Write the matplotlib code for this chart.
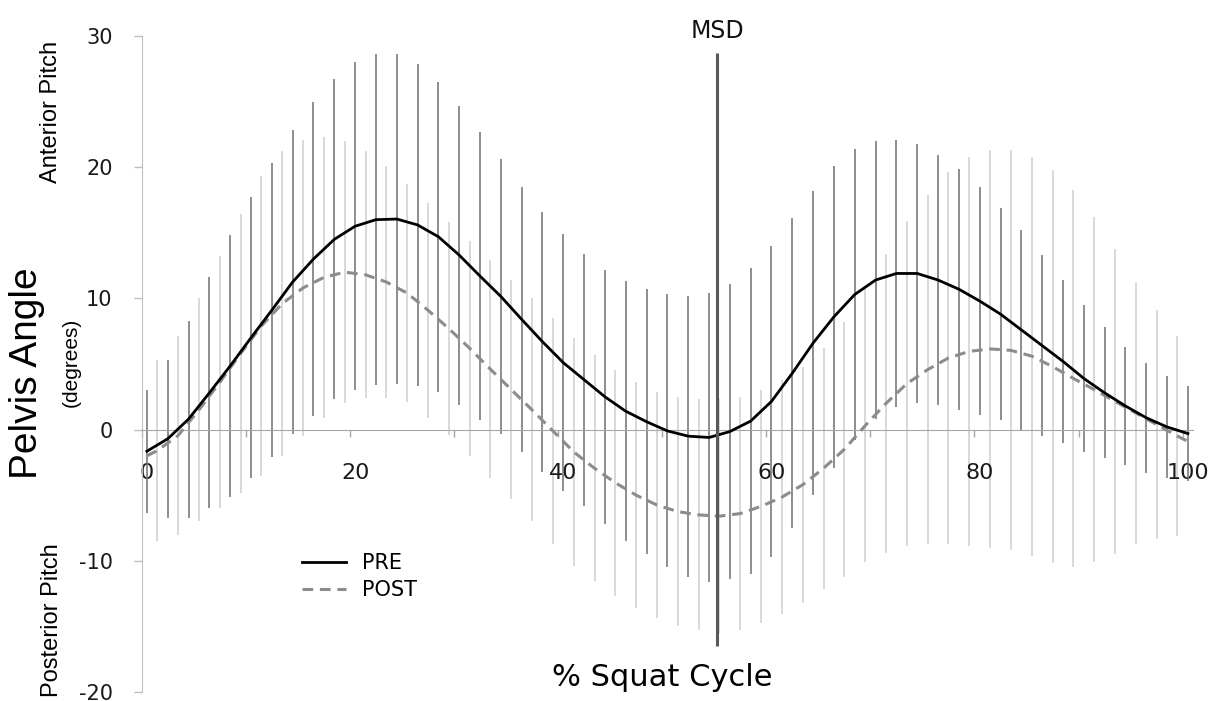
import numpy as np
import matplotlib.pyplot as plt
from matplotlib.lines import Line2D
from matplotlib import font_manager

plt.rcParams["axes.unicode_minus"] = False

# PRE: mean and SD every 2 % of the squat cycle
pre_x = list(range(0, 101, 2))
pre_mean = [-1.65, -0.7, 0.8, 2.8, 4.85, 7.0, 9.1, 11.25, 13.0, 14.5,
            15.5, 16.0, 16.05, 15.6, 14.7, 13.3, 11.7, 10.15, 8.4, 6.7,
            5.1, 3.8, 2.5, 1.4, 0.6, -0.1, -0.5, -0.6, -0.15, 0.65,
            2.15, 4.3, 6.6, 8.6, 10.3, 11.4, 11.9, 11.9, 11.4, 10.7,
            9.8, 8.8, 7.6, 6.4, 5.2, 3.9, 2.8, 1.8, 0.9, 0.2, -0.3]
pre_sd = [4.7, 6.0, 7.5, 8.8, 9.95, 10.7, 11.2, 11.6, 12.0, 12.2,
          12.5, 12.6, 12.55, 12.3, 11.8, 11.4, 11.0, 10.45, 10.1, 9.9,
          9.8, 9.6, 9.7, 9.9, 10.1, 10.4, 10.7, 11.0, 11.25, 11.65,
          11.85, 11.8, 11.6, 11.5, 11.1, 10.6, 10.2, 9.9, 9.5, 9.2,
          8.7, 8.1, 7.6, 6.9, 6.2, 5.6, 5.0, 4.5, 4.2, 3.9, 3.6]

# POST: curve at 0, odd %, 100; SD bars at odd %
post_x = [0] + list(range(1, 100, 2)) + [100]
post_mean = [-2.0, -1.6, -0.45, 1.5, 3.6, 5.8, 7.9, 9.6, 10.8, 11.6, 12.0,
             11.8, 11.25, 10.4, 9.1, 7.7, 6.2, 4.6, 3.05, 1.5, -0.1,
             -1.7, -2.95, -4.05, -5.0, -5.75, -6.25, -6.5, -6.6, -6.4, -5.85,
             -5.15, -4.2, -2.95, -1.5, 0.3, 2.0, 3.5, 4.57, 5.46, 5.96,
             6.15, 6.04, 5.6, 4.8, 3.9, 3.05, 2.15, 1.27, 0.38, -0.5, -0.9]
post_sd = [6.9, 7.6, 8.5, 9.6, 10.6, 11.4, 11.6, 11.3, 10.7, 10.0,
           9.4, 8.85, 8.3, 8.2, 8.1, 8.2, 8.3, 8.35, 8.5, 8.6,
           8.7, 8.6, 8.6, 8.6, 8.6, 8.7, 8.8, 8.9, 8.9, 8.9,
           8.9, 9.0, 9.2, 9.7, 10.4, 11.4, 12.4, 13.3, 14.2, 14.8,
           15.15, 15.25, 15.2, 15.0, 14.4, 13.15, 11.65, 10.0, 8.7, 7.6]

msd_x = 54.8
msd_range = (-16.5, 28.7)
xtick_labels = ["0", "20", "40", "60", "80", "100"]
yticks = [-20, -10, 0, 10, 20, 30]

names = {f.name for f in font_manager.fontManager.ttflist}
narrow = "Liberation Sans Narrow" if "Liberation Sans Narrow" in names else "Liberation Sans"

W, H = 1215, 701
fig = plt.figure(figsize=(W / 100, H / 100), dpi=100)
ax = fig.add_axes([141.7 / W, 1 - 692 / H, 1051.4 / W, 656 / H])

pm = np.array(post_mean[1:-1])
ps = np.array(post_sd)
ax.vlines(post_x[1:-1], pm - ps, pm + ps, colors="#d2d2d2", lw=1.2, zorder=1)
m = np.array(pre_mean)
s = np.array(pre_sd)
ax.vlines(pre_x, m - s, m + s, colors="#6f6f6f", lw=1.1, zorder=2)

ax.plot(post_x, post_mean, color="#8c8c8c", lw=2.2, ls=(0, (3.5, 2.2)), zorder=4)
ax.plot(pre_x, pre_mean, color="black", lw=2.0, zorder=5)
ax.vlines(msd_x, *msd_range, colors="#595959", lw=2.2, zorder=6)
ax.text(msd_x, 29.83, "MSD", ha="center", va="baseline", fontsize=17, color="#111111")

ax.set_xlim(-0.5, 100.5)
ax.set_ylim(-20, 30)
for sp in ["top", "right"]:
    ax.spines[sp].set_visible(False)
ax.spines["left"].set_color("#bfbfbf")
ax.spines["bottom"].set_position(("data", 0))
ax.spines["bottom"].set_color("#a6a6a6")

ax.set_yticks(yticks)
ax.tick_params(axis="y", length=6, color="#bfbfbf", width=1, pad=15,
               labelsize=15, labelcolor="#1a1a1a")
ax.set_xticks([int(t) for t in xtick_labels])
ax.set_xticklabels(xtick_labels)
ax.set_xticks(np.arange(-0.5, 100, 10), minor=True)
ax.tick_params(axis="x", which="major", length=0, pad=24, labelsize=16, labelcolor="#1a1a1a")
ax.tick_params(axis="x", which="minor", length=5, color="#a6a6a6", width=1)

handles = [Line2D([], [], color="black", lw=2.0),
           Line2D([], [], color="#8c8c8c", lw=2.2, ls=(0, (3.5, 2.2)))]
ax.legend(handles, ["PRE", "POST"], loc="upper left", bbox_to_anchor=(0.1525, 0.212),
          frameon=False, fontsize=15, handlelength=2.1, handletextpad=0.8,
          labelspacing=0.35, borderpad=0, borderaxespad=0)

fig.text(662 / W, 1 - 686 / H, "% Squat Cycle", ha="center", va="baseline", fontsize=22)
fig.text(27 / W, 1 - 373 / H, "Pelvis Angle", rotation=90, ha="center", va="center",
         fontsize=28, family=[narrow, "DejaVu Sans"])
fig.text(71 / W, 1 - 362 / H, "(degrees)", rotation=90, ha="center", va="center",
         fontsize=15, family=[narrow, "DejaVu Sans"])
fig.text(51 / W, 1 - 112 / H, "Anterior Pitch", rotation=90, ha="center", va="center",
         fontsize=17, family=[narrow, "DejaVu Sans"])
fig.text(52 / W, 1 - 620 / H, "Posterior Pitch", rotation=90, ha="center", va="center",
         fontsize=17, family=[narrow, "DejaVu Sans"])

fig.savefig("out.png", dpi=100)
